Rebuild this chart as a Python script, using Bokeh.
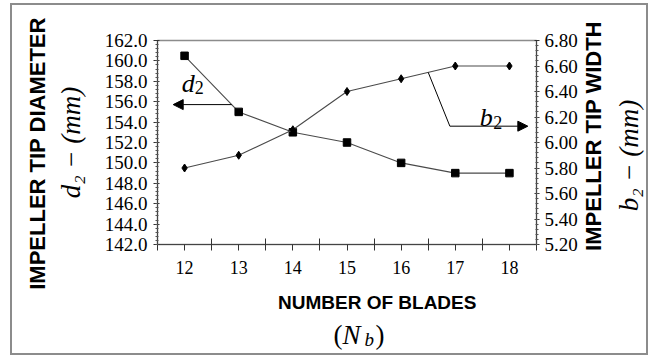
import numpy as np
from bokeh.plotting import figure
from bokeh.layouts import column, row
from bokeh.models import (Range1d, LinearAxis, FixedTicker, PrintfTickFormatter,
                          Label, Arrow, NormalHead)
from bokeh.embed import file_html
from bokeh.resources import INLINE

# Impeller geometry versus number of blades
blades = [12, 13, 14, 15, 16, 17, 18]
tip_diameter = [160.5, 155.0, 153.0, 152.0, 150.0, 149.0, 149.0]   # d2 (mm)
tip_width = [5.80, 5.90, 6.10, 6.40, 6.50, 6.60, 6.60]             # b2 (mm)

x_ticks = [12, 13, 14, 15, 16, 17, 18]
d2_ticks = [142.0, 144.0, 146.0, 148.0, 150.0, 152.0, 154.0, 156.0, 158.0, 160.0, 162.0]
b2_ticks = [5.20, 5.40, 5.60, 5.80, 6.00, 6.20, 6.40, 6.60, 6.80]

X_MIN, X_MAX = 11.5, 18.5
D2_MIN, D2_MAX = 142.0, 162.0
B2_MIN, B2_MAX = 5.20, 6.80

SERIF = "Liberation Serif"
SANS = "Liberation Sans"


def b2_on_left(v):
    """Express a tip-width value in tip-diameter axis units."""
    return D2_MIN + (v - B2_MIN) / (B2_MAX - B2_MIN) * (D2_MAX - D2_MIN)


def no_frame_align(fig):
    if "frame_align" in fig.properties():
        fig.frame_align = False


# ---------------------------------------------------------------- main plot
p = figure(width=530, height=275,
           x_range=Range1d(X_MIN, X_MAX), y_range=Range1d(D2_MIN, D2_MAX),
           output_backend="svg", toolbar_location=None,
           min_border_left=107, min_border_right=42,
           min_border_top=35, min_border_bottom=36)
no_frame_align(p)
p.extra_y_ranges = {"b2": Range1d(B2_MIN, B2_MAX)}
p.grid.visible = False
p.outline_line_color = "#8c8c8c"
p.outline_line_width = 1.5
p.background_fill_color = "white"
p.border_fill_color = "white"


def style_axis(ax, size):
    ax.major_label_text_font = SERIF
    ax.major_label_text_font_size = f"{size}px"
    ax.major_label_text_color = "black"
    ax.axis_line_color = "#444444"
    ax.major_tick_line_color = "#333333"
    ax.minor_tick_line_color = "#555555"


# bottom axis: marks at each blade count, longer marks between them
xa = p.xaxis[0]
xa.ticker = FixedTicker(ticks=x_ticks,
                        minor_ticks=list(np.arange(X_MIN, X_MAX + 0.1, 1.0)))
xa.major_tick_in = 0
xa.major_tick_out = 6
xa.minor_tick_in = 6
xa.minor_tick_out = 6
xa.major_label_standoff = 10
style_axis(xa, 18)
xa.minor_tick_line_color = "#333333"

# left axis: tip diameter
ya = p.yaxis[0]
ya.ticker = FixedTicker(ticks=d2_ticks,
                        minor_ticks=list(np.arange(D2_MIN, D2_MAX + 0.01, 0.4)))
ya.formatter = PrintfTickFormatter(format="%.1f")
ya.major_tick_in = 2
ya.major_tick_out = 4
ya.minor_tick_in = 1
ya.minor_tick_out = 2
ya.major_label_standoff = 6
style_axis(ya, 19)
ya.axis_label = "d\u2082 \u2212 (mm)"
ya.axis_label_text_font = SERIF
ya.axis_label_text_font_style = "italic"
ya.axis_label_text_font_size = "27px"
ya.axis_label_text_color = "black"
ya.axis_label_standoff = 16

# right axis: tip width
ra = LinearAxis(y_range_name="b2",
                ticker=FixedTicker(ticks=b2_ticks,
                                   minor_ticks=list(np.arange(B2_MIN, B2_MAX + 0.001, 0.04))),
                formatter=PrintfTickFormatter(format="%.2f"))
ra.major_tick_in = 2
ra.major_tick_out = 3
ra.minor_tick_in = 1
ra.minor_tick_out = 2
ra.major_label_standoff = 5
style_axis(ra, 19)
p.add_layout(ra, "right")

# data series
p.line(blades, tip_diameter, line_color="#4a4a4a", line_width=1.1)
p.scatter(blades, tip_diameter, marker="square", size=7.5,
          fill_color="black", line_color="black")
p.line(blades, tip_width, y_range_name="b2", line_color="#4a4a4a", line_width=1.1)
p.scatter(blades, tip_width, y_range_name="b2", marker="diamond", size=8,
          fill_color="black", line_color="black")

# d2 call-out: arrow from a point on the d2 curve towards the left axis
d2_from_x = 12.87
d2_from_y = float(np.interp(d2_from_x, blades, tip_diameter))
p.add_layout(Arrow(end=NormalHead(size=10, fill_color="black", line_color="black"),
                   x_start=d2_from_x, y_start=d2_from_y,
                   x_end=11.79, y_end=d2_from_y,
                   line_color="black", line_width=1))

# b2 call-out: leader from the b2 curve, then arrow towards the right axis
b2_from_x = 16.5
b2_from_y = b2_on_left(float(np.interp(b2_from_x, blades, tip_width)))
b2_knee = (16.9, 153.6)
p.line([b2_from_x, b2_knee[0]], [b2_from_y, b2_knee[1]],
       line_color="black", line_width=1)
p.add_layout(Arrow(end=NormalHead(size=10, fill_color="black", line_color="black"),
                   x_start=b2_knee[0], y_start=b2_knee[1],
                   x_end=18.34, y_end=b2_knee[1],
                   line_color="black", line_width=1))


def put_text(fig, text, x, y, size, font=SERIF, style="normal", angle=0.0,
             align="left", baseline="alphabetic"):
    fig.add_layout(Label(x=x, y=y, text=text, text_font=font,
                         text_font_size=f"{size}px", text_font_style=style,
                         text_color="black", angle=angle,
                         text_align=align, text_baseline=baseline))


put_text(p, "d", 11.95, 157.8, 26, style="italic")
put_text(p, "2", 12.19, 157.4, 18)
put_text(p, "b", 17.45, 154.45, 26, style="italic")
put_text(p, "2", 17.70, 154.0, 18)


# ------------------------------------------------- title strips (pixel units)
def text_strip(w, h):
    f = figure(width=w, height=h, x_range=Range1d(0, w), y_range=Range1d(0, h),
               output_backend="svg", toolbar_location=None,
               x_axis_location=None, y_axis_location=None,
               min_border_left=0, min_border_right=0,
               min_border_top=0, min_border_bottom=0)
    no_frame_align(f)
    f.grid.visible = False
    f.outline_line_color = None
    f.background_fill_color = "white"
    f.border_fill_color = "white"
    return f


# left-hand title, reading upwards
left_strip = text_strip(38, 348)
put_text(left_strip, "IMPELLER TIP DIAMETER", 25, 200, 22, font=SANS,
         style="bold", angle=np.pi / 2, align="center", baseline="middle")

# right-hand titles, reading upwards
right_strip = text_strip(66, 275)
put_text(right_strip, "IMPELLER TIP WIDTH", 12.8, 144.5, 22, font=SANS,
         style="bold", angle=np.pi / 2, align="center", baseline="middle")
put_text(right_strip, "b\u2082 \u2212 (mm)", 48, 125, 27, style="italic",
         angle=np.pi / 2, align="center", baseline="middle")

# bottom titles
bottom_strip = text_strip(596, 73)
put_text(bottom_strip, "NUMBER OF BLADES", 326.7, 51.3, 19, font=SANS,
         style="bold", align="center", baseline="middle")
put_text(bottom_strip, "(", 283, 19, 27)
put_text(bottom_strip, "N", 292, 19, 27, style="italic")
put_text(bottom_strip, "b", 314, 14, 19, style="italic")
put_text(bottom_strip, ")", 325, 19, 27)

page = row(left_strip, column(row(p, right_strip), bottom_strip),
           styles={"margin-left": "10px", "margin-top": "3px",
                   "border": "2px solid #8c8c8c", "background": "white"})

open("out.html", "w").write(file_html(page, INLINE))
